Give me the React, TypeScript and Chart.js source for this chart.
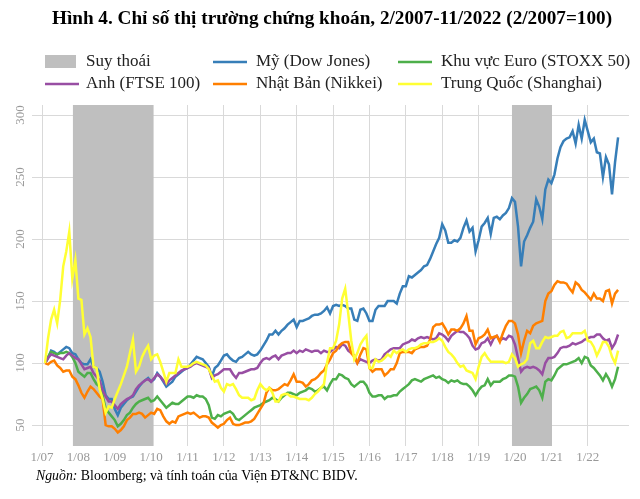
import React, { useEffect, useRef } from "react";
import { Chart, registerables } from "chart.js";

Chart.register(...registerables);

// Months counted from 1/2007 (=0). Data runs 2/2007 (=1) to 11/2022 (=190).
const firstMonth = 1;

const usDowJones = [
  100, 104, 110, 109, 107, 109, 111, 113, 112, 108, 107,
  103, 100, 99, 99, 103, 97, 96, 93, 85, 74, 71, 71,
  63, 58, 64, 67, 70, 72, 73, 77, 81, 84, 86, 88,
  85, 87, 92, 89, 85, 81, 83, 85, 89, 91, 93, 95,
  96, 99, 102, 105, 104, 103, 100, 97, 89, 96, 98, 102,
  106, 107, 104, 102, 101, 104, 105, 107, 109, 107, 106, 107,
  110, 114, 118, 123, 123, 126, 123, 126, 128, 131, 133, 135,
  129, 134, 134, 135, 136, 138, 139, 139, 140, 142, 145, 140,
  146, 147, 146, 147, 146, 144, 144, 135, 134, 143, 144, 140,
  134, 134, 143, 146, 146, 146, 150, 150, 150, 148, 156, 162,
  162, 170, 169, 171, 173, 175, 178, 179, 184, 190, 196, 201,
  212, 207, 197, 197, 199, 198, 201, 209, 215, 206, 209, 190,
  199, 210, 213, 217, 204, 217, 218, 216, 219, 221, 225, 233,
  230, 210, 178, 198, 203, 209, 214, 232, 226, 216, 240, 248,
  245, 252, 265, 274, 279, 281, 282, 287, 277, 292, 281, 296,
  287, 278, 281, 270, 269, 250, 266, 260, 236, 262, 282,
];

const euroStoxx50 = [
  100, 105, 109, 108, 107, 108, 108, 109, 108, 105, 100,
  93, 91, 89, 92, 92, 87, 83, 81, 74, 63, 60, 57,
  54, 49, 51, 54, 58, 60, 64, 67, 69, 70, 71, 72,
  69, 70, 73, 70, 67, 64, 66, 68, 67, 67, 69, 71,
  73, 73, 72, 74, 73, 73, 71, 66, 56, 55, 58, 57,
  59, 60, 61, 59, 55, 54, 56, 58, 60, 62, 64, 65,
  66, 68, 69, 70, 72, 71, 69, 72, 74, 76, 76, 75,
  74, 76, 77, 78, 80, 79, 77, 78, 80, 81, 78, 83,
  87, 87, 91, 90, 88, 87, 83, 81, 83, 85, 85, 82,
  76, 73, 73, 74, 74, 71, 73, 73, 74, 74, 77, 79,
  81, 83, 86, 87, 86, 85, 87, 88, 89, 90, 88, 89,
  87, 86, 84, 86, 85, 86, 84, 83, 83, 81, 78, 74,
  78, 81, 82, 87, 82, 85, 85, 85, 87, 88, 90, 90,
  89, 81, 68, 72, 75, 79, 80, 81, 78, 72, 85, 87,
  86, 90, 95, 97, 99, 99, 100, 101, 102, 104, 100, 105,
  104, 98, 96, 93, 90, 86, 91, 87, 81, 87, 97,
];

const ukFtse100 = [
  100, 104, 107, 106, 105, 104, 103, 106, 108, 106, 104,
  103, 99, 95, 96, 97, 92, 89, 86, 78, 73, 69, 69,
  66, 63, 67, 69, 71, 72, 74, 79, 82, 84, 86, 87,
  85, 88, 91, 89, 86, 83, 86, 88, 90, 92, 94, 95,
  96, 97, 99, 100, 99, 98, 97, 96, 88, 90, 91, 93,
  95, 95, 95, 91, 88, 92, 92, 93, 94, 95, 95, 96,
  100, 103, 104, 103, 105, 106, 103, 106, 107, 108, 108, 110,
  108, 110, 109, 111, 110, 109, 110, 110, 108, 110, 109, 109,
  111, 113, 112, 115, 114, 110, 108, 106, 100, 103, 102, 101,
  100, 102, 103, 102, 103, 107, 109, 111, 112, 112, 112, 115,
  116, 117, 119, 118, 120, 121, 120, 121, 120, 119, 120, 124,
  123, 121, 118, 122, 124, 126, 125, 125, 123, 120, 114, 111,
  112, 116, 117, 120, 115, 120, 122, 118, 120, 119, 122, 121,
  115, 104, 93, 96, 97, 96, 97, 96, 94, 91, 100, 104,
  104, 105, 108, 112, 113, 113, 114, 116, 115, 116, 117, 119,
  120, 121, 121, 123, 123, 120, 118, 119, 112, 116, 123,
];

const japanNikkei = [
  100, 99, 101, 102, 98, 96, 93, 94, 94, 89, 87,
  82, 76, 72, 77, 81, 79, 76, 73, 71, 50, 49, 49,
  47, 44, 46, 49, 54, 56, 59, 59, 60, 59, 56, 58,
  60, 59, 63, 62, 57, 53, 51, 53, 52, 57, 58, 59,
  60, 59, 60, 58, 56, 57, 57, 56, 52, 50, 48, 50,
  51, 54, 56, 51, 50, 50, 51, 52, 52, 53, 55, 59,
  63, 67, 76, 80, 78, 78, 79, 81, 83, 82, 86, 91,
  85, 85, 84, 81, 83, 86, 87, 89, 92, 94, 99, 103,
  108, 110, 114, 116, 117, 117, 108, 105, 100, 107, 112, 111,
  96, 93, 95, 95, 95, 90, 92, 95, 95, 100, 108, 109,
  109, 109, 108, 111, 112, 113, 113, 114, 119, 129, 131, 131,
  132, 128, 123, 127, 127, 126, 128, 132, 138, 126, 126, 115,
  120, 121, 123, 127, 120, 121, 122, 117, 124, 130, 134, 134,
  132, 123, 108, 118, 126, 124, 130, 132, 133, 134, 150, 156,
  158, 163, 166, 165, 165, 164, 160, 157, 165, 163, 159, 157,
  154, 151, 156, 152, 152, 150, 158, 159, 148, 156, 159,
];

const chinaShanghai = [
  100, 120, 135, 143, 132, 151, 178, 190, 206, 168, 183,
  152, 151, 123, 128, 121, 97, 96, 79, 71, 60, 65, 64,
  71, 77, 83, 90, 97, 108, 119, 93, 97, 105, 110, 114,
  103, 106, 107, 101, 93, 85, 92, 92, 92, 103, 97, 97,
  97, 98, 100, 101, 100, 99, 98, 95, 90, 85, 86, 80,
  77, 83, 82, 83, 79, 74, 72, 72, 72, 70, 71, 78,
  83, 80, 78, 80, 76, 69, 69, 74, 75, 75, 73, 73,
  72, 71, 71, 71, 70, 72, 75, 77, 80, 83, 100, 112,
  112, 118, 131, 152, 160, 140, 118, 103, 108, 115, 119, 122,
  96, 96, 103, 101, 102, 104, 107, 105, 110, 108, 110, 111,
  109, 111, 112, 112, 113, 115, 116, 116, 117, 117, 118, 120,
  118, 113, 109, 107, 104, 100, 97, 98, 94, 93, 92, 87,
  97, 105, 108, 104, 101, 101, 101, 101, 101, 100, 101, 107,
  104, 97, 99, 100, 103, 116, 118, 112, 112, 117, 121, 120,
  121, 122, 122, 125, 126, 120, 121, 124, 124, 124, 124, 126,
  118, 117, 113, 106, 111, 117, 117, 113, 105, 100, 110,
];

const xTickValues = [0, 12, 24, 36, 48, 60, 72, 84, 96, 108, 120, 132, 144, 156, 168, 180];
const xTickLabels = ["1/07", "1/08", "1/09", "1/10", "1/11", "1/12", "1/13", "1/14", "1/15", "1/16", "1/17", "1/18", "1/19", "1/20", "1/21", "1/22"];
const yTickValues = [50, 100, 150, 200, 250, 300];

const recessionStarts = [10.2, 155];
const recessionEnds = [36.8, 168.2];

const titleText = "Hình 4. Chỉ số thị trường chứng khoán, 2/2007-11/2022 (2/2007=100)";
const sourceLabel = "Nguồn:";
const sourceText = " Bloomberg; và tính toán của Viện ĐT&NC BIDV.";

const seriesDefs = [
  { label: "Trung Quốc (Shanghai)", values: chinaShanghai, color: "#ffff33" },
  { label: "Nhật Bản (Nikkei)", values: japanNikkei, color: "#ff7f00" },
  { label: "Anh (FTSE 100)", values: ukFtse100, color: "#984ea3" },
  { label: "Khu vực Euro (STOXX 50)", values: euroStoxx50, color: "#4daf4a" },
  { label: "Mỹ (Dow Jones)", values: usDowJones, color: "#377eb8" },
];

const legendItems = [
  { label: "Suy thoái", color: "#bfbfbf", box: true, col: 0, row: 0 },
  { label: "Mỹ (Dow Jones)", color: "#377eb8", box: false, col: 1, row: 0 },
  { label: "Khu vực Euro (STOXX 50)", color: "#4daf4a", box: false, col: 2, row: 0 },
  { label: "Anh (FTSE 100)", color: "#984ea3", box: false, col: 0, row: 1 },
  { label: "Nhật Bản (Nikkei)", color: "#ff7f00", box: false, col: 1, row: 1 },
  { label: "Trung Quốc (Shanghai)", color: "#ffff33", box: false, col: 2, row: 1 },
];

const FONT = '"Liberation Serif", "Times New Roman", serif';

const recessionPlugin = {
  id: "recessionBands",
  beforeDatasetsDraw(chart: any) {
    const { ctx, chartArea, scales } = chart;
    const xs = scales.x;
    ctx.save();
    ctx.fillStyle = "#bfbfbf";
    for (let i = 0; i < recessionStarts.length; i++) {
      const x1 = xs.getPixelForValue(recessionStarts[i]);
      const x2 = xs.getPixelForValue(recessionEnds[i]);
      ctx.fillRect(x1, chartArea.top, x2 - x1, chartArea.bottom - chartArea.top);
    }
    ctx.restore();
  },
};

const decorPlugin = {
  id: "decor",
  afterDraw(chart: any) {
    const { ctx, scales } = chart;
    ctx.save();
    // Title
    ctx.fillStyle = "#000";
    ctx.font = `bold 19.2px ${FONT}`;
    ctx.textAlign = "center";
    ctx.textBaseline = "middle";
    ctx.fillText(titleText, 332, 19);

    // Legend
    const markX = [45, 213, 398];
    const textX = [86, 256, 441];
    const rowY = [62, 84];
    ctx.font = `17px ${FONT}`;
    ctx.textAlign = "left";
    for (const it of legendItems) {
      const mx = markX[it.col];
      const y = rowY[it.row];
      if (it.box) {
        ctx.fillStyle = it.color;
        ctx.fillRect(mx, y - 7, 31, 13);
      } else {
        ctx.strokeStyle = it.color;
        ctx.lineWidth = 2.5;
        ctx.beginPath();
        ctx.moveTo(mx, y);
        ctx.lineTo(mx + 34, y);
        ctx.stroke();
      }
      ctx.fillStyle = "#222";
      ctx.fillText(it.label, textX[it.col], y);
    }

    // Y tick labels (rotated)
    const ys = scales.y;
    ctx.fillStyle = "#999";
    ctx.font = `13px ${FONT}`;
    ctx.textAlign = "center";
    ctx.textBaseline = "middle";
    for (const v of yTickValues) {
      const py = ys.getPixelForValue(v);
      ctx.save();
      ctx.translate(20.5, py);
      ctx.rotate(-Math.PI / 2);
      ctx.fillText(String(v), 0, 0);
      ctx.restore();
    }

    // Source
    ctx.fillStyle = "#000";
    ctx.textAlign = "left";
    ctx.font = `italic 13.8px ${FONT}`;
    const sx = 36;
    const sy = 476;
    ctx.fillText(sourceLabel, sx, sy);
    const w = ctx.measureText(sourceLabel).width;
    ctx.font = `13.8px ${FONT}`;
    ctx.fillText(sourceText, sx + w, sy);
    ctx.restore();
  },
};

export default function App() {
  const canvasRef = useRef<HTMLCanvasElement | null>(null);

  useEffect(() => {
    document.body.style.margin = "0";
    const canvas = canvasRef.current;
    if (!canvas) return;
    const datasets = seriesDefs.map((s) => ({
      label: s.label,
      data: s.values.map((v, i) => ({ x: firstMonth + i, y: v })),
      borderColor: s.color,
      backgroundColor: s.color,
      borderWidth: 2.5,
      pointRadius: 0,
      tension: 0,
      fill: false,
    }));

    const chart = new Chart(canvas, {
      type: "line",
      data: { datasets },
      plugins: [recessionPlugin, decorPlugin],
      options: {
        animation: false,
        responsive: false,
        devicePixelRatio: 1,
        parsing: false,
        normalized: true,
        layout: { padding: { top: 105, right: 11, bottom: 0, left: 0 } },
        plugins: {
          legend: { display: false },
          title: { display: false },
          tooltip: { enabled: false },
        },
        scales: {
          x: {
            type: "linear",
            min: 0,
            max: 193.6,
            afterBuildTicks(scale: any) {
              scale.ticks = xTickValues.map((v) => ({ value: v }));
            },
            afterFit(scale: any) {
              scale.height = 53;
            },
            grid: { color: "#d9d9d9", lineWidth: 1, drawTicks: false },
            border: { display: false },
            ticks: {
              autoSkip: false,
              maxRotation: 0,
              minRotation: 0,
              padding: 4,
              color: "#999",
              font: { family: FONT, size: 13 },
              callback: (_v: any, i: number) => xTickLabels[i],
            },
          },
          y: {
            type: "linear",
            min: 33.1,
            max: 308.1,
            afterBuildTicks(scale: any) {
              scale.ticks = yTickValues.map((v) => ({ value: v }));
            },
            afterFit(scale: any) {
              scale.width = 42;
            },
            grid: { color: "#d9d9d9", lineWidth: 1, drawTicks: true, tickLength: 10 },
            border: { display: false },
            ticks: { display: false },
          },
        },
      },
    } as any);
    return () => chart.destroy();
  }, []);

  return (
    <div style={{ position: "absolute", left: 0, top: 0, width: 640, height: 499, background: "#fff" }}>
      <canvas ref={canvasRef} width={640} height={499} style={{ width: 640, height: 499, display: "block" }} />
    </div>
  );
}
